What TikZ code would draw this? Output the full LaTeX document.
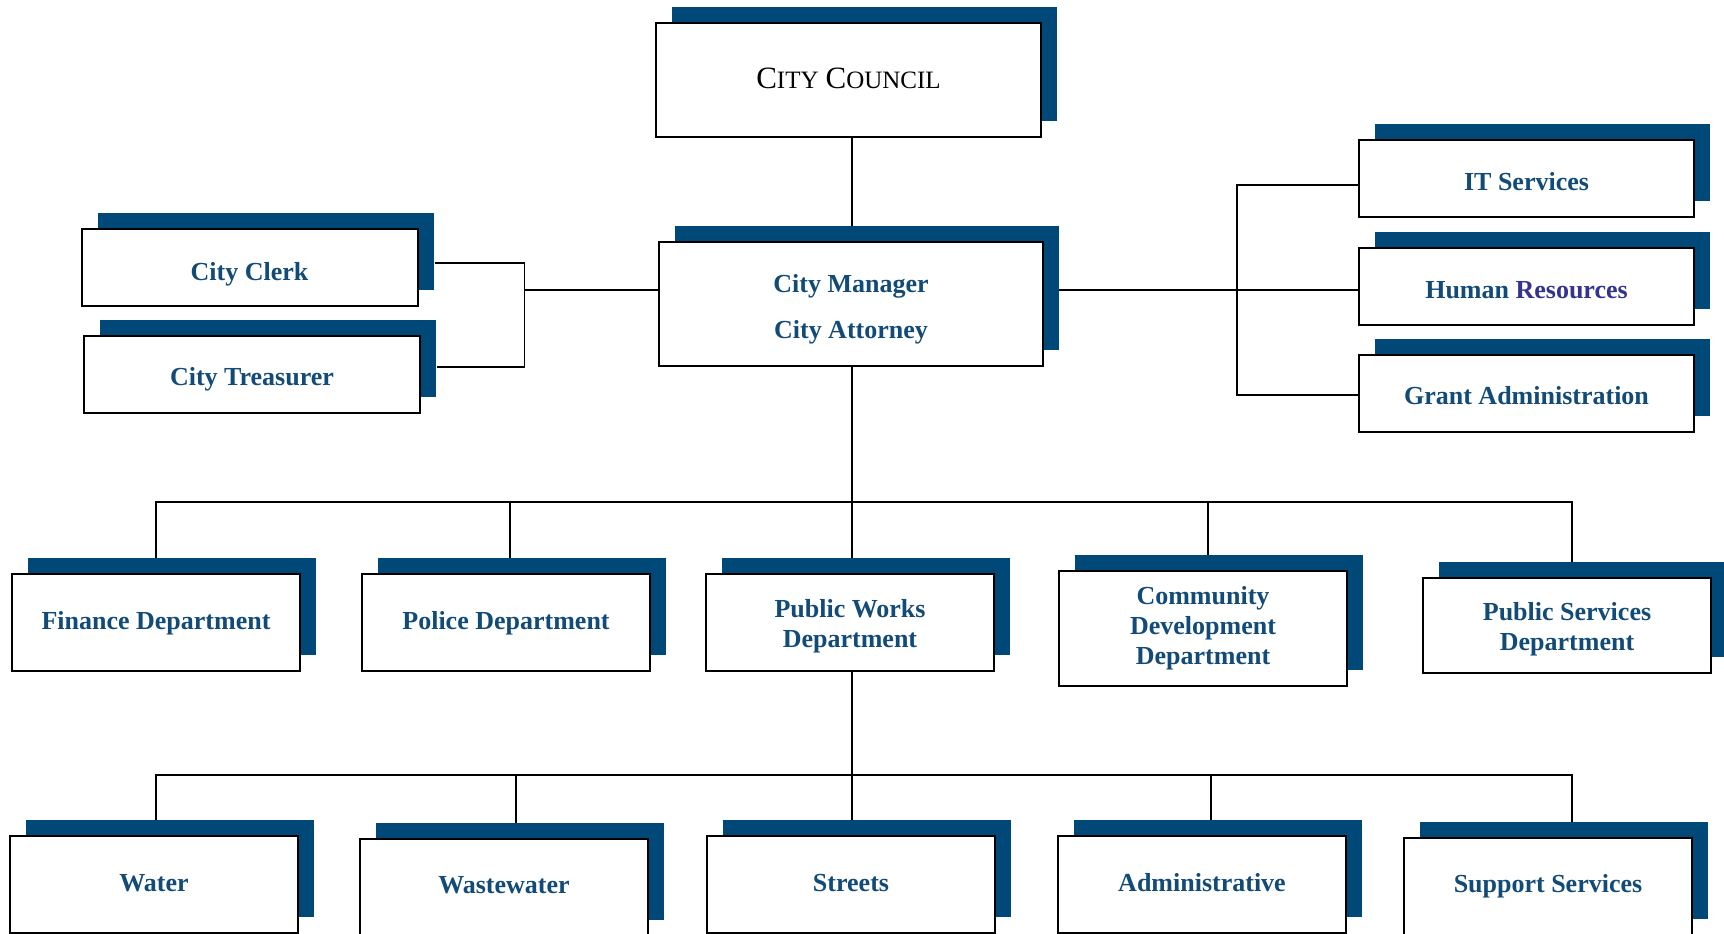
\documentclass[tikz,border=0pt]{standalone}
\usepackage{fontspec}
\newfontfamily\lib{Liberation Serif}
\usetikzlibrary{shadows,backgrounds}
\definecolor{sblue}{HTML}{004878}
\definecolor{tblue}{HTML}{124B78}
\definecolor{rblue}{HTML}{34348F}
\newcommand{\bigC}{\fontsize{31}{36}\selectfont}
\newcommand{\smC}{\fontsize{25}{30}\selectfont}
\begin{document}
\begin{tikzpicture}[x=1pt,y=-1pt,
  box/.style={draw=black, line width=2pt, fill=white, inner sep=0pt,
    general shadow={fill=sblue, shadow xshift=16pt, shadow yshift=16pt}},
  side/.style={box, minimum width=336pt, minimum height=77pt},
  dept/.style={box, minimum width=288pt, minimum height=97pt},
  lbl/.style={inner sep=0pt, align=center, text=tblue,
    font=\lib\bfseries\fontsize{26}{30}\selectfont},
  conn/.style={line width=1.8pt, draw=black}]
\useasboundingbox (0,0) rectangle (1724,934);

% top
\node[box, minimum width=385pt, minimum height=114pt] (council) at (848.5,80) {};
\node[lbl, text=black, font=\lib\fontsize{28}{32}\selectfont] (council-t) at ([yshift=2pt]council.center)
  {{\bigC C}{\smC ITY} {\bigC C}{\smC OUNCIL}};
\node[box, minimum width=384pt, minimum height=124pt] (mgr) at (851,304) {};
\node[lbl, font=\lib\bfseries\fontsize{26}{46}\selectfont] (mgr-t) at ([yshift=-5.5pt]mgr.center)
  {City Manager\\City Attorney};

% left
\node[side] (clerk) at (249.5,267.5) {};
\node[lbl] (clerk-t) at ([yshift=-6.5pt]clerk.center) {City Clerk};
\node[side] (treas) at (252,374) {};
\node[lbl] (treas-t) at ([yshift=-5.5pt]treas.center) {City Treasurer};

% right
\node[side, minimum width=335pt] (it) at (1526.5,178) {};
\node[lbl] (it-t) at ([yshift=-3.3pt]it.center) {IT Services};
\node[side, minimum width=335pt] (hr) at (1526.5,286.5) {};
\node[lbl] (hr-t) at ([yshift=-3.3pt]hr.center) {Human \textcolor{rblue}{Resources}};
\node[side, minimum width=335pt] (grant) at (1526.5,393.5) {};
\node[lbl] (grant-t) at ([yshift=-2.2pt]grant.center) {Grant Administration};

% departments
\node[dept] (fin) at (156,622.5) {};
\node[lbl] (fin-t) at ([yshift=-1pt]fin.center) {Finance Department};
\node[dept] (pol) at (506,622.5) {};
\node[lbl] (pol-t) at ([yshift=-1pt]pol.center) {Police Department};
\node[dept] (pw) at (850,622.5) {};
\node[lbl] (pw-t) at ([yshift=-3.3pt]pw.center) {Public Works\\Department};
\node[dept, minimum height=115pt] (cd) at (1203,628.5) {};
\node[lbl] (cd-t) at (cd.center) {Community\\Development\\Department};
\node[dept, minimum height=95pt] (ps) at (1567,625.5) {};
\node[lbl] (ps-t) at ([yshift=-3.3pt]ps.center) {Public Services\\Department};

% divisions
\node[dept] (water) at (154,884.5) {};
\node[lbl] (water-t) at ([yshift=1pt]water.center) {Water};
\node[dept] (ww) at (504,887.5) {};
\node[lbl] (ww-t) at ([yshift=2pt]ww.center) {Wastewater};
\node[dept] (streets) at (851,884.5) {};
\node[lbl] (streets-t) at ([yshift=1pt]streets.center) {Streets};
\node[dept] (admin) at (1202,884.5) {};
\node[lbl] (admin-t) at ([yshift=2pt]admin.center) {Administrative};
\node[dept] (support) at (1548,886.5) {};
\node[lbl] (support-t) at (support.center) {Support Services};

\coordinate (lb) at (524.5,290);
\coordinate (rb) at (1237,290);
\coordinate (b1) at (852,502);
\coordinate (b2) at (852,775);

\begin{pgfonlayer}{background}
% council - manager
\draw[conn] (mgr.north -| b1) -- (council.south -| b1);
% left bracket
\draw[conn] ([xshift=16pt,yshift=4.5pt]clerk.east) -| (lb) |- ([xshift=16pt,yshift=7pt]treas.east);
\draw[conn] (lb) -- (mgr.west |- lb);
% right bracket
\draw[conn] (mgr.east |- rb) -- (hr.west |- rb);
\draw[conn] ([yshift=-7pt]it.west) -| (rb) |- ([yshift=-1.5pt]grant.west);
% departments bus
\draw[conn] (mgr.south -| b1) -- (b1);
\draw[conn] (fin.north) |- ([xshift=5pt]ps.north |- b1) -- ([xshift=5pt]ps.north);
\draw[conn] ([xshift=4pt]pol.north) -- ([xshift=4pt]pol.north |- b1);
\draw[conn] (pw.north -| b1) -- (b1);
\draw[conn] ([xshift=5pt]cd.north) -- ([xshift=5pt]cd.north |- b1);
% divisions bus
\draw[conn] (pw.south -| b2) -- (b2);
\draw[conn] ([xshift=2pt]water.north) |- ([xshift=24pt]support.north |- b2) -- ([xshift=24pt]support.north);
\draw[conn] ([xshift=12pt]ww.north) -- ([xshift=12pt]ww.north |- b2);
\draw[conn] (streets.north -| b2) -- (b2);
\draw[conn] ([xshift=9pt]admin.north) -- ([xshift=9pt]admin.north |- b2);
\end{pgfonlayer}
\end{tikzpicture}
\end{document}
